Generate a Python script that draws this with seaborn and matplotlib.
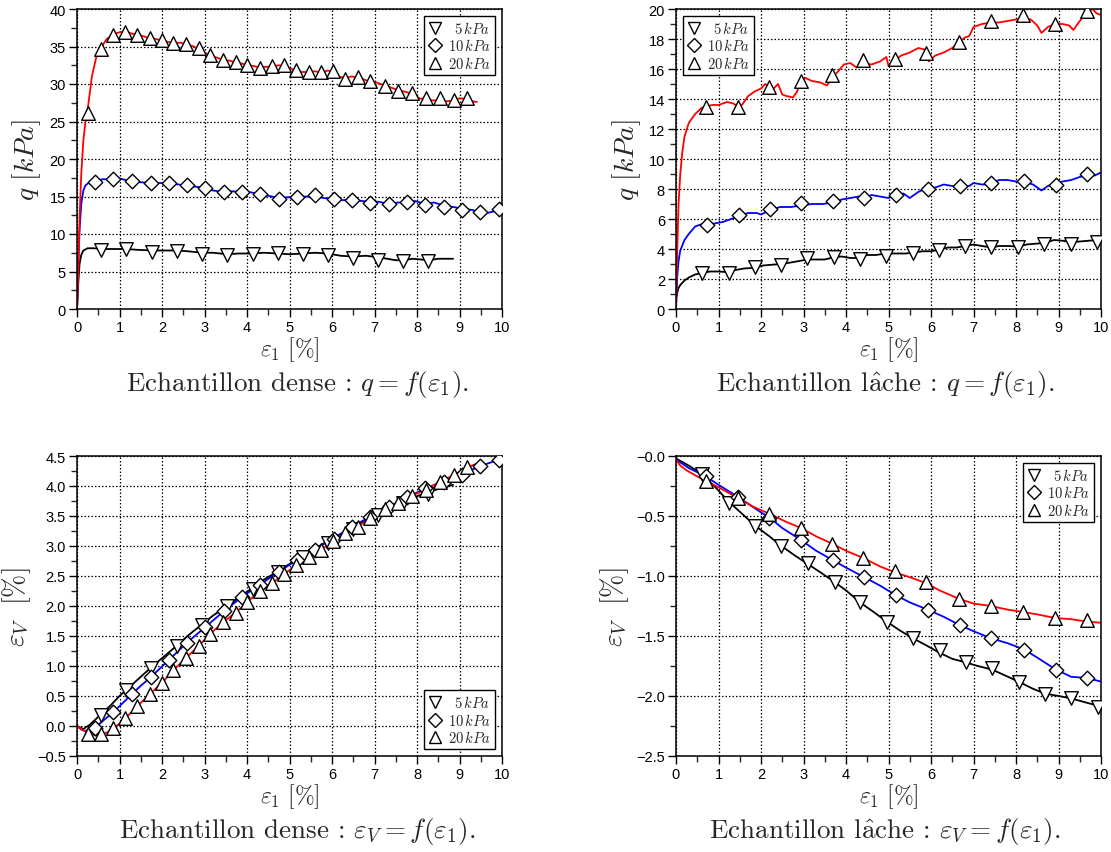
import numpy as np
import pandas as pd
import matplotlib
matplotlib.use("Agg")
import matplotlib.pyplot as plt
from matplotlib.lines import Line2D
from matplotlib.ticker import MultipleLocator, FixedLocator, FixedFormatter
import seaborn as sns

# ---------------- data ----------------
pressures = ["5", "10", "20"]
legend_labels = [r"$\enspace5\,kPa$", r"$10\,kPa$", r"$20\,kPa$"]

# dense sample, q = f(eps1)
dq5_x = [0, 0.03, 0.06, 0.1, 0.15, 0.25, 0.4, 0.57, 0.8, 1.0, 1.16, 1.4, 1.76, 2.0, 2.36, 2.6, 2.95, 3.2, 3.54, 3.8,
         4.13, 4.4, 4.73, 5.0, 5.32, 5.6, 5.9, 6.2, 6.49, 6.8, 7.08, 7.3, 7.5, 7.67, 7.9, 8.1, 8.27, 8.5, 8.85]
dq5_y = [0, 3.5, 6.0, 7.2, 7.8, 8.1, 8.1, 8.0, 8.0, 8.0, 8.0, 7.9, 7.8, 7.8, 7.8, 7.7, 7.5, 7.5, 7.3, 7.4,
         7.4, 7.5, 7.4, 7.3, 7.4, 7.5, 7.4, 7.1, 7.0, 7.1, 6.9, 6.7, 6.5, 6.5, 6.7, 6.6, 6.5, 6.7, 6.7]
dq5_mx = [0.57, 1.16, 1.76, 2.36, 2.95, 3.54, 4.13, 4.73, 5.32, 5.9, 6.49, 7.08, 7.67, 8.27]
dq5_my = [7.9, 8.0, 7.6, 7.7, 7.3, 7.2, 7.3, 7.5, 7.3, 7.2, 6.8, 6.6, 6.4, 6.4]

dq10_x = [0, 0.03, 0.06, 0.1, 0.15, 0.2, 0.3, 0.42, 0.6, 0.85, 1.0, 1.15, 1.29, 1.5, 1.73, 1.95, 2.16, 2.4, 2.59,
          2.8, 3.02, 3.2, 3.45, 3.65, 3.88, 4.05, 4.31, 4.5, 4.75, 4.95, 5.18, 5.4, 5.61, 5.8, 6.04, 6.25, 6.47,
          6.7, 6.9, 7.1, 7.33, 7.55, 7.76, 7.95, 8.2, 8.4, 8.63, 8.85, 9.06, 9.3, 9.49, 9.65, 9.8, 10.0]
dq10_y = [0, 6, 10.5, 14, 15.8, 16.5, 16.9, 17.1, 17.3, 17.3, 17.4, 17.2, 17.1, 16.9, 16.8, 16.8, 16.7, 16.6, 16.4,
          16.3, 16.1, 15.8, 15.6, 15.7, 15.6, 15.6, 15.3, 15.1, 14.8, 14.9, 14.9, 15.0, 15.0, 14.8, 14.6, 14.5, 14.6,
          14.4, 14.3, 14.3, 14.0, 14.2, 14.2, 14.4, 14.0, 14.2, 13.8, 13.6, 13.4, 13.2, 12.9, 12.8, 13.0, 13.3]
dq10_mx = [0.42, 0.85, 1.29, 1.73, 2.16, 2.59, 3.02, 3.45, 3.88, 4.31, 4.75, 5.18, 5.61, 6.04, 6.47, 6.9, 7.33,
           7.76, 8.2, 8.63, 9.06, 9.49, 9.92]
dq10_my = [17.0, 17.3, 17.1, 16.8, 16.8, 16.5, 16.1, 15.6, 15.6, 15.3, 14.7, 14.9, 15.2, 14.7, 14.6, 14.2, 14.0,
           14.3, 13.9, 13.6, 13.2, 13.0, 13.3]

dq20_x = [0, 0.03, 0.06, 0.1, 0.15, 0.2, 0.26, 0.35, 0.45, 0.56, 0.7, 0.85, 1.0, 1.14, 1.3, 1.42, 1.6, 1.71, 1.85,
          2.0, 2.15, 2.27, 2.45, 2.57, 2.75, 2.86, 3.0, 3.14, 3.3, 3.44, 3.6, 3.73, 3.9, 4.0, 4.15, 4.3, 4.45, 4.59,
          4.75, 4.87, 5.0, 5.16, 5.3, 5.45, 5.6, 5.75, 5.9, 6.02, 6.15, 6.31, 6.45, 6.6, 6.75, 6.9, 7.05, 7.24, 7.4,
          7.55, 7.7, 7.88, 8.05, 8.22, 8.4, 8.53, 8.7, 8.86, 9.0, 9.18, 9.3, 9.41]
dq20_y = [0, 5, 12, 18, 22.5, 25, 27, 31, 33.5, 34.8, 36, 36.6, 36.9, 37.0, 36.7, 36.6, 36.3, 36.1, 36.0,
          35.8, 35.6, 35.5, 35.5, 35.3, 35.0, 34.6, 34.2, 33.8, 33.5, 33.2, 33.1, 32.9, 32.7, 32.5, 32.4, 32.2, 32.3,
          32.3, 32.5, 32.4, 32.1, 31.8, 31.6, 31.6, 31.7, 31.5, 31.8, 31.6, 31.0, 30.8, 31.0, 30.9, 30.6, 30.3, 30.2,
          29.8, 29.5, 29.2, 29.0, 28.7, 28.1, 27.9, 27.8, 27.9, 27.7, 27.8, 28.1, 28.0, 27.7, 27.6]
dq20_mx = [0.26, 0.56, 0.85, 1.14, 1.42, 1.71, 2.0, 2.27, 2.57, 2.86, 3.14, 3.44, 3.73, 4.0, 4.3, 4.59, 4.87, 5.16,
           5.45, 5.75, 6.02, 6.31, 6.6, 6.9, 7.24, 7.55, 7.88, 8.22, 8.53, 8.86, 9.18]
dq20_my = [26.2, 34.7, 36.6, 37.0, 36.6, 36.1, 35.9, 35.5, 35.4, 34.8, 33.9, 33.2, 33.0, 32.6, 32.2, 32.4, 32.6,
           31.9, 31.6, 31.6, 31.8, 30.7, 31.0, 30.4, 29.8, 29.1, 28.8, 28.1, 28.1, 27.9, 28.1]

# loose sample, q = f(eps1)
lq5_x = [0, 0.03, 0.06, 0.1, 0.2, 0.3, 0.45, 0.62, 0.8, 1.0, 1.24, 1.4, 1.6, 1.85, 2.05, 2.25, 2.47, 2.7, 2.9, 3.09,
         3.3, 3.5, 3.71, 3.9, 4.1, 4.33, 4.5, 4.7, 4.95, 5.2, 5.4, 5.57, 5.8, 6.0, 6.19, 6.4, 6.6, 6.81, 7.0, 7.2,
         7.42, 7.6, 7.85, 8.05, 8.25, 8.45, 8.66, 8.9, 9.1, 9.3, 9.5, 9.7, 9.91, 10.0]
lq5_y = [0.7, 1.1, 1.4, 1.6, 1.9, 2.1, 2.3, 2.4, 2.5, 2.5, 2.45, 2.6, 2.7, 2.75, 2.9, 2.95, 3.0, 3.1, 3.2, 3.3,
         3.3, 3.3, 3.45, 3.5, 3.4, 3.4, 3.6, 3.6, 3.7, 3.7, 3.7, 3.75, 3.85, 3.85, 3.95, 4.1, 4.1, 4.2, 4.3, 4.2,
         4.1, 4.2, 4.2, 4.15, 4.3, 4.35, 4.4, 4.6, 4.55, 4.45, 4.5, 4.55, 4.6, 4.5]
lq5_mx = [0.62, 1.24, 1.85, 2.47, 3.09, 3.71, 4.33, 4.95, 5.57, 6.19, 6.81, 7.42, 8.05, 8.66, 9.3, 9.91]
lq5_my = [2.4, 2.4, 2.78, 2.96, 3.38, 3.44, 3.33, 3.56, 3.73, 3.96, 4.18, 4.11, 4.11, 4.33, 4.33, 4.5]

lq10_x = [0, 0.03, 0.06, 0.1, 0.2, 0.3, 0.45, 0.6, 0.72, 0.9, 1.1, 1.3, 1.48, 1.7, 1.9, 2.0, 2.22, 2.45, 2.7, 2.95,
          3.2, 3.45, 3.7, 3.9, 4.1, 4.3, 4.43, 4.6, 4.8, 5.0, 5.17, 5.35, 5.5, 5.7, 5.92, 6.1, 6.3, 6.5, 6.68, 6.9,
          7.0, 7.2, 7.42, 7.6, 7.8, 8.0, 8.18, 8.4, 8.6, 8.75, 8.94, 9.1, 9.3, 9.5, 9.67, 9.85, 10.0]
lq10_y = [0, 2.2, 3.2, 3.9, 4.6, 5.0, 5.5, 5.65, 5.6, 5.7, 5.8, 6.0, 6.2, 6.4, 6.4, 6.3, 6.6, 6.8, 6.8, 6.9,
          7.0, 7.0, 7.1, 7.3, 7.4, 7.5, 7.4, 7.6, 7.5, 7.4, 7.6, 7.7, 7.4, 7.8, 8.1, 8.1, 8.3, 8.2, 8.1, 8.2,
          8.4, 8.3, 8.3, 8.6, 8.6, 8.5, 8.5, 8.3, 7.9, 8.2, 8.4, 8.5, 8.6, 8.8, 8.9, 8.9, 9.1]
lq10_mx = [0.72, 1.48, 2.22, 2.95, 3.7, 4.43, 5.17, 5.92, 6.68, 7.42, 8.18, 8.94, 9.67]
lq10_my = [5.6, 6.27, 6.67, 7.04, 7.2, 7.4, 7.6, 8.0, 8.2, 8.4, 8.55, 8.3, 9.0]

lq20_x = [0, 0.03, 0.06, 0.1, 0.15, 0.2, 0.3, 0.45, 0.6, 0.7, 0.85, 1.0, 1.2, 1.35, 1.45, 1.55, 1.7, 1.85, 2.0, 2.1,
          2.19, 2.3, 2.4, 2.5, 2.6, 2.75, 2.85, 2.94, 3.05, 3.2, 3.4, 3.55, 3.67, 3.8, 3.95, 4.1, 4.25, 4.41, 4.6,
          4.8, 4.95, 5.0, 5.15, 5.3, 5.5, 5.7, 5.85, 5.95, 6.1, 6.3, 6.5, 6.66, 6.8, 6.9, 7.0, 7.2, 7.41, 7.6, 7.8,
          8.0, 8.16, 8.35, 8.5, 8.6, 8.75, 8.92, 9.1, 9.25, 9.35, 9.5, 9.67, 9.8, 9.9, 10.0]
lq20_y = [0, 4, 7, 9, 10.5, 11.5, 12.4, 13.0, 13.4, 13.5, 13.6, 13.6, 13.8, 13.7, 13.5, 13.6, 14.2, 14.5, 14.7, 15.0,
          14.8, 14.7, 15.0, 14.3, 14.2, 14.1, 14.5, 15.2, 15.4, 15.2, 15.1, 14.9, 15.4, 15.8, 16.3, 16.4, 16.1, 16.4,
          16.3, 16.5, 16.8, 16.2, 16.6, 16.9, 17.1, 17.4, 17.3, 16.5, 16.9, 17.1, 17.4, 17.8, 18.1, 18.2, 18.8, 19.0,
          19.1, 19.1, 19.2, 19.3, 19.4, 19.3, 18.9, 18.4, 18.8, 19.0, 19.0, 18.9, 18.6, 19.2, 19.8, 20.0, 19.7, 19.6]
lq20_mx = [0.7, 1.45, 2.19, 2.94, 3.67, 4.41, 5.15, 5.89, 6.66, 7.41, 8.16, 8.92, 9.67]
lq20_my = [13.5, 13.5, 14.8, 15.2, 15.6, 16.6, 16.7, 17.1, 17.8, 19.2, 19.6, 19.0, 19.9]

# dense sample, eps_v = f(eps1)
dv5_x = [0, 0.15, 0.3, 0.57, 0.8, 1.0, 1.16, 1.5, 1.75, 2.0, 2.35, 2.6, 2.95, 3.2, 3.54, 3.8, 4.13, 4.4, 4.73, 5.0,
         5.32, 5.6, 5.9, 6.2, 6.49, 6.8, 7.08, 7.4, 7.67, 8.0, 8.27, 8.55, 8.85]
dv5_y = [0, -0.05, 0.02, 0.2, 0.35, 0.5, 0.6, 0.82, 0.98, 1.13, 1.34, 1.5, 1.7, 1.84, 2.0, 2.14, 2.3, 2.44, 2.58,
         2.7, 2.84, 2.96, 3.08, 3.2, 3.3, 3.44, 3.54, 3.65, 3.74, 3.83, 3.9, 3.96, 4.02]
dv5_mx = [0.57, 1.16, 1.75, 2.35, 2.95, 3.54, 4.13, 4.73, 5.32, 5.9, 6.49, 7.08, 7.67, 8.27]
dv5_my = [0.19, 0.6, 0.97, 1.33, 1.68, 2.0, 2.29, 2.57, 2.82, 3.05, 3.28, 3.52, 3.72, 3.86]

dv10_x = [0, 0.1, 0.2, 0.42, 0.6, 0.85, 1.0, 1.29, 1.5, 1.73, 2.16, 2.59, 3.02, 3.45, 3.88, 4.31, 4.75, 5.18, 5.61,
          6.04, 6.47, 6.9, 7.33, 7.76, 8.2, 8.63, 9.06, 9.49, 9.92]
dv10_y = [0, -0.06, -0.08, -0.03, 0.08, 0.23, 0.33, 0.53, 0.67, 0.81, 1.1, 1.39, 1.65, 1.91, 2.15, 2.36, 2.57, 2.77,
          2.95, 3.13, 3.32, 3.49, 3.65, 3.81, 3.96, 4.08, 4.2, 4.33, 4.44]
dv10_mx = [0.42, 0.85, 1.29, 1.73, 2.16, 2.59, 3.02, 3.45, 3.88, 4.31, 4.75, 5.18, 5.61, 6.04, 6.47, 6.9, 7.33,
           7.76, 8.2, 8.63, 9.06, 9.49, 9.92]
dv10_my = [-0.03, 0.23, 0.53, 0.81, 1.1, 1.39, 1.65, 1.91, 2.15, 2.35, 2.57, 2.77, 2.94, 3.12, 3.32, 3.49, 3.65,
           3.82, 3.96, 4.07, 4.19, 4.33, 4.44]

dv20_x = [0, 0.1, 0.26, 0.45, 0.56, 0.7, 0.85, 1.0, 1.14, 1.42, 1.71, 2.0, 2.27, 2.57, 2.86, 3.14, 3.44, 3.73, 4.0,
          4.3, 4.59, 4.87, 5.16, 5.45, 5.75, 6.02, 6.31, 6.6, 6.9, 7.24, 7.55, 7.88, 8.22, 8.53, 8.86, 9.18, 9.4]
dv20_y = [0, -0.05, -0.12, -0.16, -0.15, -0.11, -0.04, 0.04, 0.13, 0.33, 0.53, 0.72, 0.93, 1.14, 1.33, 1.54, 1.73,
          1.89, 2.06, 2.25, 2.38, 2.53, 2.68, 2.82, 2.94, 3.08, 3.21, 3.32, 3.46, 3.61, 3.72, 3.84, 3.94, 4.07, 4.18,
          4.31, 4.37]
dv20_mx = [0.26, 0.56, 0.85, 1.14, 1.42, 1.71, 2.0, 2.27, 2.57, 2.86, 3.14, 3.44, 3.73, 4.0, 4.3, 4.59, 4.87, 5.16,
           5.45, 5.75, 6.02, 6.31, 6.6, 6.9, 7.24, 7.55, 7.88, 8.22, 8.53, 8.86, 9.18]
dv20_my = [-0.14, -0.14, -0.04, 0.13, 0.33, 0.53, 0.72, 0.93, 1.14, 1.33, 1.54, 1.73, 1.89, 2.06, 2.25, 2.38, 2.53,
           2.68, 2.82, 2.94, 3.08, 3.21, 3.32, 3.46, 3.61, 3.72, 3.84, 3.94, 4.07, 4.18, 4.31]

# loose sample, eps_v = f(eps1)
lv5_x = [0, 0.3, 0.61, 0.9, 1.24, 1.55, 1.86, 2.2, 2.48, 2.8, 3.1, 3.4, 3.73, 4.0, 4.33, 4.65, 4.96, 5.25, 5.58,
         5.9, 6.2, 6.5, 6.82, 7.1, 7.44, 7.75, 8.06, 8.4, 8.68, 9.0, 9.3, 9.6, 9.92, 10.0]
lv5_y = [-0.02, -0.08, -0.15, -0.25, -0.38, -0.48, -0.58, -0.67, -0.75, -0.83, -0.9, -0.97, -1.05, -1.12, -1.22,
         -1.3, -1.38, -1.45, -1.52, -1.58, -1.64, -1.69, -1.72, -1.75, -1.78, -1.83, -1.88, -1.94, -1.98, -2.0, -2.02,
         -2.05, -2.08, -2.09]
lv5_mx = [0.61, 1.24, 1.86, 2.48, 3.1, 3.73, 4.33, 4.96, 5.58, 6.2, 6.82, 7.44, 8.06, 8.68, 9.3, 9.92]
lv5_my = [-0.15, -0.39, -0.58, -0.75, -0.89, -1.05, -1.22, -1.38, -1.52, -1.62, -1.72, -1.77, -1.88, -1.98, -2.02,
          -2.09]

lv10_x = [0, 0.3, 0.7, 1.0, 1.5, 2.0, 2.19, 2.5, 2.94, 3.3, 3.7, 4.0, 4.43, 4.8, 5.17, 5.5, 5.92, 6.3, 6.68, 7.0,
          7.42, 7.8, 8.18, 8.5, 8.94, 9.3, 9.67, 10.0]
lv10_y = [-0.03, -0.1, -0.17, -0.24, -0.35, -0.47, -0.51, -0.6, -0.7, -0.79, -0.87, -0.93, -1.01, -1.08, -1.16,
          -1.22, -1.28, -1.34, -1.41, -1.46, -1.52, -1.56, -1.61, -1.68, -1.78, -1.84, -1.85, -1.88]
lv10_mx = [0.7, 1.45, 2.19, 2.94, 3.7, 4.43, 5.17, 5.92, 6.68, 7.42, 8.18, 8.94, 9.67]
lv10_my = [-0.17, -0.34, -0.52, -0.7, -0.87, -1.01, -1.16, -1.28, -1.41, -1.52, -1.62, -1.78, -1.85]

lv20_x = [0, 0.1, 0.25, 0.5, 0.7, 1.0, 1.45, 1.8, 2.19, 2.6, 2.94, 3.3, 3.67, 4.0, 4.41, 4.8, 5.15, 5.5, 5.89, 6.2,
          6.66, 7.0, 7.41, 7.8, 8.16, 8.5, 8.92, 9.3, 9.67, 10.0]
lv20_y = [-0.03, -0.08, -0.12, -0.17, -0.21, -0.26, -0.35, -0.42, -0.48, -0.55, -0.6, -0.67, -0.73, -0.79, -0.85,
          -0.92, -0.97, -1.01, -1.06, -1.12, -1.19, -1.23, -1.25, -1.28, -1.3, -1.32, -1.35, -1.36, -1.38, -1.39]
lv20_mx = [0.7, 1.45, 2.19, 2.94, 3.67, 4.41, 5.15, 5.89, 6.66, 7.41, 8.16, 8.92, 9.67]
lv20_my = [-0.21, -0.35, -0.48, -0.6, -0.73, -0.85, -0.96, -1.05, -1.19, -1.25, -1.3, -1.35, -1.37]

x_ticks = [0, 1, 2, 3, 4, 5, 6, 7, 8, 9, 10]
dq_ticks = [0, 5, 10, 15, 20, 25, 30, 35, 40]
lq_ticks = [0, 2, 4, 6, 8, 10, 12, 14, 16, 18, 20]
dv_ticks = [-0.5, 0.0, 0.5, 1.0, 1.5, 2.0, 2.5, 3.0, 3.5, 4.0, 4.5]
dv_labels = ["\u22120.5", "0.0", "0.5", "1.0", "1.5", "2.0", "2.5", "3.0", "3.5", "4.0", "4.5"]
lv_ticks = [-2.5, -2.0, -1.5, -1.0, -0.5, 0.0]
lv_labels = ["\u22122.5", "\u22122.0", "\u22121.5", "\u22121.0", "\u22120.5", "\u22120.0"]

captions = [r"Echantillon dense : $q = f(\varepsilon_1)$.",
            r"Echantillon l$\hat{\mathrm{a}}$che : $q = f(\varepsilon_1)$.",
            r"Echantillon dense : $\varepsilon_V = f(\varepsilon_1)$.",
            r"Echantillon l$\hat{\mathrm{a}}$che : $\varepsilon_V = f(\varepsilon_1)$."]

# ---------------- style ----------------
sns.set_style("white")
plt.rcParams["font.family"] = ["Liberation Sans", "DejaVu Sans"]
plt.rcParams["mathtext.fontset"] = "cm"

colors = {"5": "black", "10": "blue", "20": "red"}
markers = {"5": "v", "10": "D", "20": "^"}
msize = {"5": 95, "10": 55, "20": 95}

fig = plt.figure(figsize=(11.11, 8.53), dpi=100)
W, H = 1111, 853


def make_ax(left, top):
    return fig.add_axes([left / W, 1 - (top + 300) / H, 425 / W, 300 / H])


def draw(ax, lines, marks, yticks, ylabels, ylim, ystep, ylab, ylab_x, leg_loc):
    for p, (lx, ly) in zip(pressures, lines):
        sns.lineplot(x=lx, y=ly, ax=ax, color=colors[p], linewidth=1.3, sort=False, estimator=None, zorder=2)
    for p, (mx, my) in zip(pressures, marks):
        sns.scatterplot(x=mx, y=my, ax=ax, marker=markers[p], s=msize[p], facecolor="white",
                        edgecolor="black", linewidth=1.0, zorder=3)
    ax.set_xlim(0, 10)
    ax.set_ylim(*ylim)
    ax.xaxis.set_major_locator(FixedLocator(x_ticks))
    ax.xaxis.set_minor_locator(MultipleLocator(0.5))
    ax.yaxis.set_major_locator(FixedLocator(yticks))
    ax.yaxis.set_major_formatter(FixedFormatter(ylabels))
    ax.yaxis.set_minor_locator(MultipleLocator(ystep))
    ax.tick_params(which="major", direction="out", length=6, width=1, labelsize=10.5, pad=2, colors="black")
    ax.tick_params(which="minor", direction="out", length=4, width=1)
    ax.tick_params(axis="x", which="both", bottom=True)
    ax.tick_params(axis="y", which="both", left=True)
    ax.grid(True, which="major", color="black", linestyle=(0, (1.2, 1.6)), linewidth=0.9)
    for s in ax.spines.values():
        s.set_color("black")
        s.set_linewidth(1.1)
    ax.set_xlabel(r"$\varepsilon_1\ [\%]$", fontsize=17)
    ax.xaxis.set_label_coords(0.5, -0.085)
    ax.set_ylabel(ylab, fontsize=20)
    ax.yaxis.set_label_coords(ylab_x, 0.5)
    handles = [Line2D([], [], marker=markers[p], linestyle="none", markerfacecolor="white",
                      markeredgecolor="black", markersize=9 if p != "10" else 7, markeredgewidth=1.0)
               for p in pressures]
    leg = ax.legend(handles, legend_labels, loc=leg_loc, fontsize=10.5, frameon=True, fancybox=False,
                    framealpha=1, edgecolor="black", handlelength=0.9, handletextpad=0.45,
                    labelspacing=0.1, borderpad=0.3, borderaxespad=0.45)
    leg.get_frame().set_linewidth(1.0)


ax1 = make_ax(77, 10)
draw(ax1, [(dq5_x, dq5_y), (dq10_x, dq10_y), (dq20_x, dq20_y)],
     [(dq5_mx, dq5_my), (dq10_mx, dq10_my), (dq20_mx, dq20_my)],
     dq_ticks, [str(t) for t in dq_ticks], (0, 40), 2.5, r"$q\ [kPa]$", -0.08, "upper right")

ax2 = make_ax(676, 10)
draw(ax2, [(lq5_x, lq5_y), (lq10_x, lq10_y), (lq20_x, lq20_y)],
     [(lq5_mx, lq5_my), (lq10_mx, lq10_my), (lq20_mx, lq20_my)],
     lq_ticks, [str(t) for t in lq_ticks], (0, 20), 1, r"$q\ [kPa]$", -0.078, "upper left")

ax3 = make_ax(77, 457)
draw(ax3, [(dv5_x, dv5_y), (dv10_x, dv10_y), (dv20_x, dv20_y)],
     [(dv5_mx, dv5_my), (dv10_mx, dv10_my), (dv20_mx, dv20_my)],
     dv_ticks, dv_labels, (-0.5, 4.5), 0.25, r"$\varepsilon_V\ \ [\%]$", -0.104, "lower right")

ax4 = make_ax(676, 457)
draw(ax4, [(lv5_x, lv5_y), (lv10_x, lv10_y), (lv20_x, lv20_y)],
     [(lv5_mx, lv5_my), (lv10_mx, lv10_my), (lv20_mx, lv20_my)],
     lv_ticks, lv_labels, (-2.5, 0.0), 0.25, r"$\varepsilon_V\ \ [\%]$", -0.105, "upper right")

cap_font = ["cmr10", "DejaVu Serif"]
cap_pos = [(297, 385), (885, 385), (297, 832), (885, 832)]
for (cx, cy), txt in zip(cap_pos, captions):
    fig.text(cx / W, 1 - cy / H, txt, ha="center", va="center", fontsize=19.5, family=cap_font)

fig.savefig("out.png", dpi=100)
